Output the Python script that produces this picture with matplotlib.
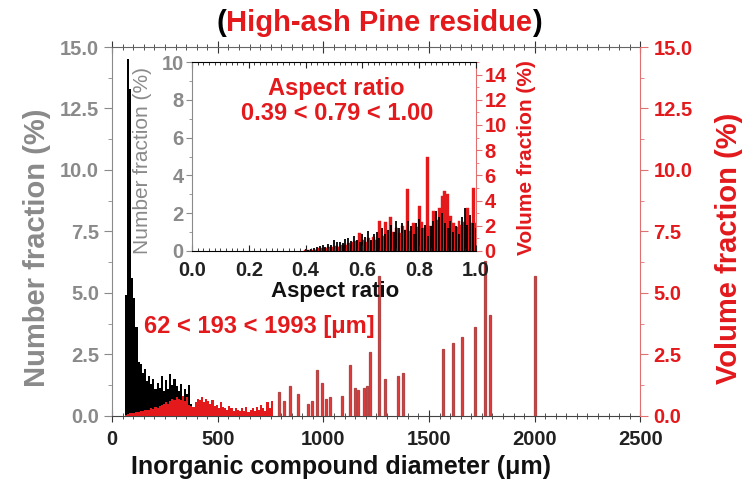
import numpy as np
import matplotlib
matplotlib.use('Agg')
from matplotlib import pyplot as plt
from matplotlib.ticker import MultipleLocator

plt.rcParams['font.family'] = ['Liberation Sans', 'DejaVu Sans']

## main histogram: number fraction (black), 10 um bins
num_d = list(range(65, 395, 10))
num_frac = [4.9, 14.5, 13.3, 5.6, 4.8, 3.6, 2.2, 2.1, 1.75, 1.9, 1.4, 1.6, 1.3, 1.5, 1.1,
            1.35, 1.15, 1.6, 1.0, 1.45, 1.1, 1.7, 1.25, 1.5, 1.2, 1.0, 1.3, 0.8, 1.1, 0.9,
            1.25, 0.5, 0.3]

## main histogram: volume fraction (red), dense part
vol_d = list(range(65, 765, 10))
vol_frac = [0.05, 0.08, 0.1, 0.1, 0.12, 0.15, 0.15, 0.18, 0.2, 0.22, 0.25, 0.25, 0.3, 0.28,
            0.35, 0.3, 0.4, 0.45, 0.5, 0.55, 0.5, 0.6, 0.7, 0.65, 0.75, 0.7, 0.65, 0.8, 0.6,
            0.75, 0.45, 0.4, 0.35, 0.55, 0.7, 0.65, 0.75, 0.55, 0.7, 0.6, 0.5, 0.65, 0.4,
            0.45, 0.3, 0.55, 0.35, 0.3, 0.25, 0.4, 0.3, 0.2, 0.3, 0.25, 0.2, 0.3, 0.2, 0.35,
            0.15, 0.25, 0.3, 0.2, 0.35, 0.25, 0.45, 0.3, 0.2, 0.55, 0.3, 0.6]

## volume fraction, isolated large particles
big_d = [790, 815, 840, 880, 925, 945, 970, 995, 1013, 1032, 1090, 1127, 1150, 1165, 1190,
         1205, 1222, 1265, 1292, 1354, 1378, 1567, 1615, 1657, 1719, 1766, 1790, 2003]
big_frac = [0.95, 0.6, 1.2, 0.9, 0.5, 0.6, 1.85, 1.35, 0.7, 0.75, 0.8, 2.05, 1.15, 1.05,
            1.15, 1.2, 2.6, 5.7, 1.5, 1.6, 1.75, 2.7, 2.95, 3.2, 3.6, 6.3, 4.1, 5.7]

## inset: aspect ratio, 0.01 bins
ar = [round(0.40 + 0.01 * i, 2) for i in range(61)]
ar_num = [0.1, 0.05, 0.1, 0.15, 0.2, 0.25, 0.3, 0.2, 0.35, 0.3, 0.6, 0.45, 0.5, 0.4, 0.65,
          0.7, 0.55, 0.8, 0.6, 0.5, 0.9, 0.75, 1.05, 0.6, 0.9, 1.0, 0.7, 1.2, 0.9, 1.1, 1.4,
          1.0, 1.6, 1.2, 1.5, 1.1, 1.6, 1.3, 0.9, 1.5, 1.7, 1.2, 1.4, 0.8, 1.3, 1.6, 2.1,
          1.8, 2.0, 1.5, 1.2, 1.6, 1.0, 1.3, 0.9, 1.8, 2.3, 1.4, 1.9, 1.5, 1.2]
ar_vol = [0.05, 0.05, 0.1, 0.1, 0.15, 0.2, 0.2, 0.25, 0.3, 0.3, 0.35, 0.4, 0.35, 0.5, 0.45,
          0.6, 0.5, 0.7, 0.8, 1.4, 0.9, 0.7, 1.0, 0.8, 1.1, 0.9, 2.4, 1.2, 2.3, 1.3, 2.7,
          1.5, 1.8, 1.4, 2.0, 1.7, 4.9, 1.6, 2.2, 1.9, 3.6, 2.3, 1.8, 7.45, 2.0, 3.2, 2.5,
          3.4, 4.4, 4.8, 4.5, 2.8, 2.2, 1.9, 2.4, 2.1, 2.3, 3.4, 2.2, 5.0, 2.2]

GRAY = '#8a8a8a'
RED = '#e3191c'
DARKRED = '#b54545'

fig = plt.figure(figsize=(7.48, 4.95), dpi=100)

def px(x, y):
    return x / 748, 1 - y / 495

## main axes
ax = fig.add_axes([0.150, 0.160, 0.706, 0.745])
ax.bar(num_d, num_frac, width=10, color='black', linewidth=0)
ax.set_xlim(0, 2500)
ax.set_ylim(0, 15)
ax.xaxis.set_major_locator(MultipleLocator(500))
ax.xaxis.set_minor_locator(MultipleLocator(50))
ax.yaxis.set_major_locator(MultipleLocator(2.5))
ax.yaxis.set_minor_locator(MultipleLocator(1.25))
ax.yaxis.set_major_formatter(lambda v, p: f'{v:.1f}')
ax.tick_params(axis='x', which='both', top=True, direction='inout', colors='#333333',
               labelsize=14.5, pad=6)
ax.tick_params(axis='x', which='major', length=8)
ax.tick_params(axis='x', which='minor', length=4)
ax.tick_params(axis='y', which='both', colors=GRAY, labelsize=14.5)
ax.tick_params(axis='y', which='major', length=6)
ax.tick_params(axis='y', which='minor', length=3)
for lab in ax.get_xticklabels() + ax.get_yticklabels():
    lab.set_fontweight('bold')
for lab in ax.get_xticklabels():
    lab.set_color('#222222')
ax.spines['left'].set_color(GRAY)
ax.spines['top'].set_color('#666666')
ax.spines['bottom'].set_color('#444444')
ax.spines['right'].set_visible(False)

ax2 = ax.twinx()
ax2.bar(vol_d, vol_frac, width=10, color=RED, linewidth=0)
ax2.bar(big_d, big_frac, width=9, color='#ea3a3a', edgecolor=DARKRED, linewidth=0.9)
ax2.set_ylim(0, 15)
ax2.yaxis.set_major_locator(MultipleLocator(2.5))
ax2.yaxis.set_minor_locator(MultipleLocator(1.25))
ax2.yaxis.set_major_formatter(lambda v, p: f'{v:.1f}')
ax2.tick_params(axis='y', which='both', colors='#e07070', labelcolor=RED, labelsize=14.5)
ax2.tick_params(axis='y', which='major', length=6)
ax2.tick_params(axis='y', which='minor', length=3)
for lab in ax2.get_yticklabels():
    lab.set_fontweight('bold')
ax2.spines['right'].set_color('#e07070')
for s in ['left', 'top', 'bottom']:
    ax2.spines[s].set_visible(False)

fig.text(*px(37, 248), 'Number fraction (%)', rotation=90, color=GRAY, fontsize=21,
         fontweight='bold', ha='center', va='center')
fig.text(*px(729, 248), 'Volume fraction (%)', rotation=90, color=RED, fontsize=21,
         fontweight='bold', ha='center', va='center')
fig.text(*px(341, 467), 'Inorganic compound diameter (\u03bcm)', color='#111111', fontsize=18,
         fontweight='bold', ha='center', va='center')
fig.text(*px(259, 326), '62 < 193 < 1993 [\u03bcm]', color=RED, fontsize=17,
         fontweight='bold', ha='center', va='center')

## title: black brackets, red text
t1 = fig.text(*px(216, 23), '(', fontsize=21, fontweight='bold', color='black', va='center')
t2 = ax.annotate('High-ash Pine residue', xy=(1, 0), xycoords=t1, va='bottom', fontsize=21,
                 fontweight='bold', color=RED, annotation_clip=False)
ax.annotate(')', xy=(1, 0), xycoords=t2, va='bottom', fontsize=21, fontweight='bold',
            color='black', annotation_clip=False)

## inset: red volume bars behind, black number bars in front
ins = fig.add_axes([192 / 748, 1 - 251 / 495, 284 / 748, 189 / 495])
ins2 = ins.twinx()
ins2.set_zorder(ins.get_zorder())
ins.set_zorder(ins2.get_zorder() + 1)
ins.patch.set_visible(False)
ins2.patch.set_visible(True)
ins2.patch.set_facecolor('white')

ins2.bar(ar, ar_vol, width=0.01, color=RED, edgecolor=RED, linewidth=0.3)
ins.bar(ar, ar_num, width=0.007, color='black', linewidth=0, alpha=0.9)
ins.set_xlim(0, 1.0)
ins.set_ylim(0, 10)
ins.xaxis.set_major_locator(MultipleLocator(0.2))
ins.xaxis.set_minor_locator(MultipleLocator(0.02))
ins.xaxis.set_major_formatter(lambda v, p: f'{v:.1f}')
ins.yaxis.set_major_locator(MultipleLocator(2))
ins.yaxis.set_minor_locator(MultipleLocator(1))
ins.tick_params(axis='x', which='both', top=True, direction='in', colors='#222222',
                labelsize=14.5, pad=7)
ins.tick_params(axis='x', which='major', length=4)
ins.tick_params(axis='x', which='minor', length=2)
ins.tick_params(axis='y', which='both', colors=GRAY, labelsize=14.5, pad=2)
ins.tick_params(axis='y', which='major', length=4)
ins.tick_params(axis='y', which='minor', length=2)
for lab in ins.get_xticklabels() + ins.get_yticklabels():
    lab.set_fontweight('bold')
ins.spines['left'].set_color(GRAY)
ins.spines['right'].set_visible(False)

ins2.set_ylim(0, 15)
ins2.yaxis.set_major_locator(MultipleLocator(2))
ins2.yaxis.set_minor_locator(MultipleLocator(1))
ins2.set_yticks(range(0, 15, 2))
ins2.tick_params(axis='y', which='both', colors='#e07070', labelcolor=RED, labelsize=14.5,
                 pad=2)
ins2.tick_params(axis='y', which='major', length=4)
ins2.tick_params(axis='y', which='minor', length=2)
for lab in ins2.get_yticklabels():
    lab.set_fontweight('bold')
ins2.spines['right'].set_color('#e07070')
for s in ['left', 'top', 'bottom']:
    ins2.spines[s].set_visible(False)

fig.text(*px(143, 160), 'Number fraction (%)', rotation=90, color=GRAY, fontsize=15,
         ha='center', va='center')
fig.text(*px(527, 158), 'Volume fraction (%)', rotation=90, color=RED, fontsize=15,
         fontweight='bold', ha='center', va='center')
fig.text(*px(335, 291), 'Aspect ratio', color='#111111', fontsize=16, fontweight='bold',
         ha='center', va='center')
fig.text(*px(336, 88), 'Aspect ratio', color=RED, fontsize=17, fontweight='bold',
         ha='center', va='center')
fig.text(*px(337, 113), '0.39 < 0.79 < 1.00', color=RED, fontsize=17, fontweight='bold',
         ha='center', va='center')

fig.savefig('out.png', dpi=100)
